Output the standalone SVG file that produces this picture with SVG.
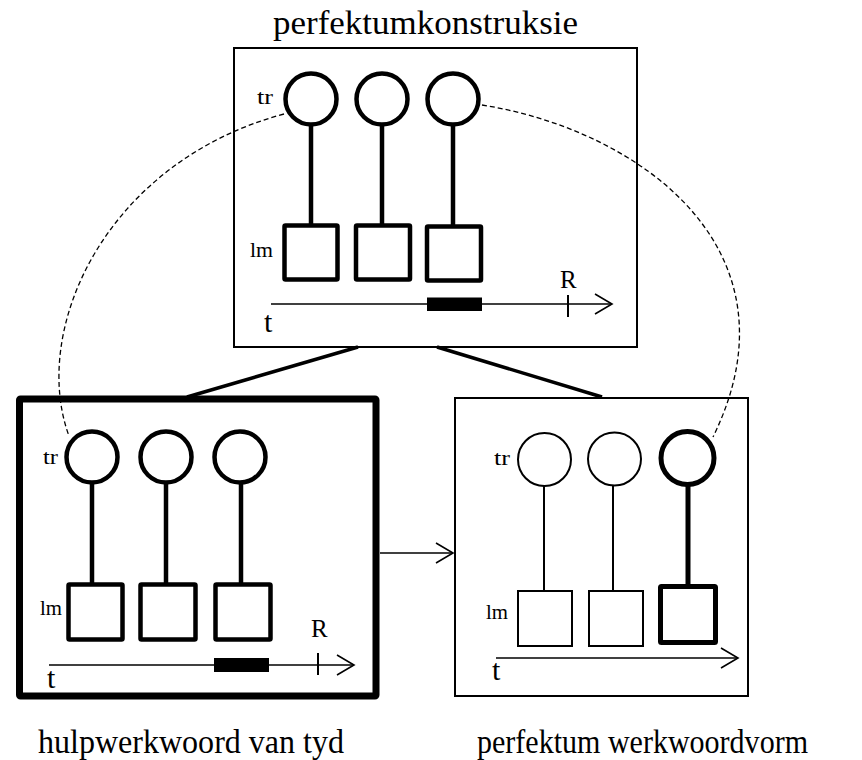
<svg xmlns="http://www.w3.org/2000/svg" width="862" height="760" viewBox="0 0 862 760">
<defs>
<style>
text{font-family:"Liberation Serif","DejaVu Serif",serif;fill:#000}
.big{font-size:34px}
.lab{font-size:21px}
.R{font-size:25px}
.t{font-size:30px}
.frame{fill:none;stroke:#000;stroke-width:2}
.thick{fill:#fff;stroke:#000;stroke-width:4.5}
.thin{fill:#fff;stroke:#000;stroke-width:2}
.bold{fill:#fff;stroke:#000;stroke-width:5}
.stem{stroke:#000;stroke-width:4.5}
.stemthin{stroke:#000;stroke-width:2}
.axis{stroke:#000;stroke-width:1.6;fill:none}
.link{stroke:#000;stroke-width:3.5}
.dash{fill:none;stroke:#000;stroke-width:1.3;stroke-dasharray:5 3}
</style>
<marker id="open" viewBox="-1 -11 20 22" refX="17" refY="0" markerWidth="20" markerHeight="22" markerUnits="userSpaceOnUse" orient="auto">
<path d="M0,-10 L17,0 L0,10" fill="none" stroke="#000" stroke-width="1.6"/>
</marker>
</defs>
<rect width="862" height="760" fill="#fff"/>

<g id="connectors">
<line class="link" x1="358" y1="347" x2="187" y2="397"/>
<line class="link" x1="437" y1="347" x2="602" y2="397"/>
<line class="axis" x1="380" y1="553" x2="453" y2="553" marker-end="url(#open)"/>
<path class="dash" d="M284,114 C105,162 30,330 69,436"/>
<path class="dash" d="M482,105 C640,130 805,250 713,437"/>
</g>

<g id="perfektumkonstruksie">
<text class="big" x="273" y="34" textLength="305" lengthAdjust="spacingAndGlyphs">perfektumkonstruksie</text>
<rect class="frame" x="234" y="48" width="403" height="299" fill="none"/>
<line class="stem" x1="311" y1="125" x2="311" y2="225"/>
<line class="stem" x1="382" y1="125" x2="382" y2="225"/>
<line class="stem" x1="453" y1="125" x2="453" y2="226"/>
<circle class="thick" cx="311" cy="99" r="25.5"/>
<circle class="thick" cx="382" cy="99" r="25.5"/>
<circle class="thick" cx="453" cy="99" r="25.5"/>
<rect class="thick" x="284.5" y="225.5" width="53" height="54" rx="1"/>
<rect class="thick" x="356" y="225.5" width="54" height="54" rx="1"/>
<rect class="thick" x="427" y="226.5" width="54" height="54" rx="1"/>
<text class="lab" x="257" y="104" textLength="16" lengthAdjust="spacingAndGlyphs">tr</text>
<text class="lab" x="250" y="257" textLength="23" lengthAdjust="spacingAndGlyphs">lm</text>
<line class="axis" x1="271" y1="304" x2="612" y2="304" marker-end="url(#open)"/>
<rect x="427" y="297.5" width="55" height="13.5" fill="#000"/>
<line x1="568" y1="295" x2="568" y2="317" stroke="#000" stroke-width="2"/>
<text class="R" x="560" y="288">R</text>
<text class="t" x="264" y="332">t</text>
</g>

<g id="hulpwerkwoord">
<rect x="19.5" y="399" width="356.5" height="297" fill="none" stroke="#000" stroke-width="7" rx="1"/>
<line class="stem" x1="92" y1="482" x2="92" y2="584"/>
<line class="stem" x1="166" y1="482" x2="166" y2="584"/>
<line class="stem" x1="241" y1="482" x2="241" y2="584"/>
<circle class="thick" cx="92" cy="457" r="25.5" stroke-width="5"/>
<circle class="thick" cx="166" cy="457" r="25.5" stroke-width="5"/>
<circle class="thick" cx="240" cy="457" r="25.5" stroke-width="5"/>
<rect class="thick" x="68.5" y="584.5" width="54" height="55" rx="1" stroke-width="5"/>
<rect class="thick" x="140.5" y="584.5" width="55" height="55" rx="1" stroke-width="5"/>
<rect class="thick" x="215.5" y="584.5" width="55" height="55" rx="1" stroke-width="5"/>
<text class="lab" x="43" y="464" textLength="15" lengthAdjust="spacingAndGlyphs">tr</text>
<text class="lab" x="40" y="615" textLength="22" lengthAdjust="spacingAndGlyphs">lm</text>
<line class="axis" x1="49" y1="665" x2="354" y2="665" marker-end="url(#open)"/>
<rect x="214" y="658" width="55" height="14" fill="#000"/>
<line x1="318" y1="653" x2="318" y2="675" stroke="#000" stroke-width="2"/>
<text class="R" x="311" y="637">R</text>
<text class="t" x="47" y="688">t</text>
<text class="big" x="38" y="753" textLength="306" lengthAdjust="spacingAndGlyphs">hulpwerkwoord van tyd</text>
</g>

<g id="perfektum-werkwoordvorm">
<rect class="frame" x="455" y="398" width="293" height="298"/>
<line class="stemthin" x1="544" y1="486" x2="544" y2="591"/>
<line class="stemthin" x1="613" y1="486" x2="613" y2="591"/>
<line x1="688" y1="486" x2="688" y2="586" stroke="#000" stroke-width="5"/>
<circle class="thin" cx="544.5" cy="459.5" r="26.5"/>
<circle class="thin" cx="614.5" cy="459" r="26.5"/>
<circle class="bold" cx="687.5" cy="458" r="26.5"/>
<rect class="thin" x="518" y="591" width="54" height="55"/>
<rect class="thin" x="589" y="591" width="54" height="55"/>
<rect class="bold" x="660.5" y="586.5" width="55" height="56" rx="1"/>
<text class="lab" x="494" y="465" textLength="16" lengthAdjust="spacingAndGlyphs">tr</text>
<text class="lab" x="486" y="619" textLength="22" lengthAdjust="spacingAndGlyphs">lm</text>
<line class="axis" x1="496" y1="658" x2="738" y2="658" marker-end="url(#open)"/>
<text class="t" x="492" y="680">t</text>
<text class="big" x="477" y="753" textLength="331" lengthAdjust="spacingAndGlyphs">perfektum werkwoordvorm</text>
</g>
</svg>
